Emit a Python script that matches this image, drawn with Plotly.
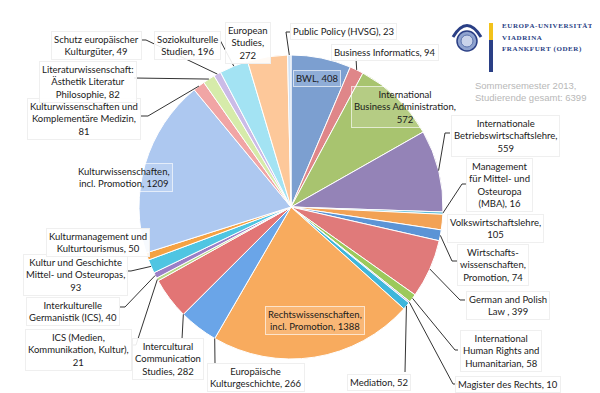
import math
import plotly.graph_objects as go

W, H = 600, 393

# ---------------- data ----------------
categories = [
    "BWL", "Business Informatics", "International Business Administration",
    "Internationale Betriebswirtschaftslehre", "Management für Mittel- und Osteuropa (MBA)",
    "Volkswirtschaftslehre", "Wirtschaftswissenschaften, Promotion", "German and Polish Law",
    "International Human Rights and Humanitarian", "Magister des Rechts", "Mediation",
    "Rechtswissenschaften, incl. Promotion", "Europäische Kulturgeschichte",
    "Intercultural Communication Studies", "ICS (Medien, Kommunikation, Kultur)",
    "Interkulturelle Germanistik (ICS)", "Kultur und Geschichte Mittel- und Osteuropas",
    "Kulturmanagement und Kulturtourismus", "Kulturwissenschaften, incl. Promotion",
    "Kulturwissenschaften und Komplementäre Medizin",
    "Literaturwissenschaft: Ästhetik Literatur Philosophie", "Schutz europäischer Kulturgüter",
    "Soziokulturelle Studien", "European Studies", "Public Policy (HVSG)",
]
values = [408, 94, 572, 559, 16, 105, 74, 399, 58, 10, 52, 1388, 266, 282, 21, 40, 93,
          50, 1209, 81, 82, 49, 196, 272, 23]
label_texts = [
    "BWL, 408", "Business Informatics, 94", "International<br>Business Administration,<br>572",
    "Internationale<br>Betriebswirtschaftslehre,<br>559",
    "Management<br>für Mittel- und<br>Osteuropa<br>(MBA), 16",
    "Volkswirtschaftslehre,<br>105", "Wirtschafts-<br>wissenschaften,<br>Promotion, 74",
    "German and Polish<br>Law , 399", "International<br>Human Rights and<br>Humanitarian, 58",
    "Magister des Rechts, 10", "Mediation, 52",
    "Rechtswissenschaften,<br>incl. Promotion, 1388", "Europäische<br>Kulturgeschichte, 266",
    "Intercultural<br>Communication<br>Studies, 282", "ICS (Medien,<br>Kommunikation, Kultur),<br>21",
    "Interkulturelle<br>Germanistik (ICS), 40", "Kultur und Geschichte<br>Mittel- und Osteuropas,<br>93",
    "Kulturmanagement und<br>Kulturtourismus, 50", "Kulturwissenschaften,<br>incl. Promotion, 1209",
    "Kulturwissenschaften und<br>Komplementäre Medizin,<br>81",
    "Literaturwissenschaft:<br>Ästhetik Literatur<br>Philosophie, 82",
    "Schutz europäischer<br>Kulturgüter, 49", "Soziokulturelle<br>Studien, 196",
    "European<br>Studies,<br>272", "Public Policy (HVSG), 23",
]
total_label = "Sommersemester 2013,<br>Studierende gesamt: 6399"
logo_lines = ["EUROPA-UNIVERSITÄT", "VIADRINA", "FRANKFURT (ODER)"]

# ---------------- styles / layout ----------------
colors = [
    "#7c9fd0", "#df8689", "#a8c46f", "#9483b7", "#57bcd9", "#f2a255", "#5b94d6",
    "#e07a7a", "#9cc95c", "#b4a5d6", "#3fb6db", "#f8ab5e", "#6aa5e8", "#e27575",
    "#b8d98a", "#9b7fc7", "#4fc5e2", "#f5a243", "#adc8f0", "#f1a5a5", "#d6ebaa",
    "#cbbbe7", "#a3e3f3", "#fdc89a", "#d2e2f4",
]

CX, CY, R = 283, 199, 152  # pie centre / radius in pixels

# label position (px), anchor, inside-box flag, leader elbow points (px), anchor fraction
label_layout = [
    ((309, 70), "center", True, None, 0.5),
    ((377, 44), "center", False, [(348, 50)], 0.5),
    ((397, 99), "center", True, None, 0.5),
    ((497, 128), "center", False, [(442, 125), (437, 125)], 0.5),
    ((492, 177), "center", False, [(458, 176), (454, 176)], 0.5),
    ((487, 220), "center", False, None, 0.5),
    ((485, 257), "center", False, [(450, 253), (444, 253)], 0.5),
    ((500, 297), "center", False, [(457, 292), (452, 292)], 0.5),
    ((493, 343), "center", False, [(450, 342), (447, 342)], 0.5),
    ((500, 376), "center", False, [(450, 376), (445, 376)], 0.5),
    ((371, 374), "center", False, [(397, 364)], 0.5),
    ((307, 312), "center", True, None, 0.5),
    ((248, 369), "center", False, [(207, 356)], 0.0),
    ((160, 351), "center", False, [(174, 331)], 0.0),
    ((70, 342), "center", False, [(123, 337), (128, 337)], 0.5),
    ((65, 303), "center", False, [(112, 299), (117, 299)], 0.5),
    ((67, 267), "center", False, [(118, 263), (123, 263)], 0.5),
    ((90, 234), "center", False, None, 0.5),
    ((116, 169), "center", True, None, 0.5),
    ((76, 111), "center", False, [(133, 108), (140, 108)], 0.5),
    ((80, 74), "center", False, [(126, 70)], 0.5),
    ((88, 38), "center", False, [(133, 32), (138, 32)], 0.5),
    ((179, 38), "center", False, [(212, 32)], 0.5),
    ((240, 35), "center", False, None, 0.5),
    ((282, 24), "left", False, [(282, 24), (278, 24)], 0.5),
]

FONT = "Lato"
FSIZE = 9.5


def px(x):
    return x / W


def py(y):
    return 1 - y / H


fig = go.Figure()
fig.add_trace(go.Pie(
    labels=categories, values=values, sort=False, direction="clockwise", rotation=0,
    marker=dict(colors=colors, line=dict(color="white", width=1)),
    textinfo="none", hoverinfo="label+value", showlegend=False,
    domain=dict(x=[px(CX - R), px(CX + R)], y=[py(CY + R), py(CY - R)]),
))

total = sum(values)
annotations = []
shapes = []
cum = 0
for i, v in enumerate(values):
    (lx, ly), anchor, inside, elbow, frac = label_layout[i]
    ang = 2 * math.pi * (cum + frac * v) / total
    cum += v
    if inside:
        box = dict(bgcolor="rgba(255,255,255,0.15)", bordercolor="rgba(255,255,255,0.65)")
    else:
        box = dict(bgcolor="rgba(255,255,255,0.9)", bordercolor="#efefef")
    annotations.append(dict(
        x=px(lx), y=py(ly), xref="paper", yref="paper", text=label_texts[i],
        showarrow=False, xanchor=anchor, yanchor="middle",
        font=dict(family=FONT, size=FSIZE, color="#1a1a1a"),
        borderwidth=1, borderpad=2, **box,
    ))
    if elbow:
        ex = CX + R * math.sin(ang)
        ey = CY - R * math.cos(ang)
        pts = list(elbow) + [(ex, ey)]
        path = "M " + " L ".join(f"{px(a):.5f},{py(b):.5f}" for a, b in pts)
        shapes.append(dict(type="path", path=path, xref="paper", yref="paper",
                           line=dict(color="#333333", width=1), layer="above"))

# summary text
annotations.append(dict(
    x=px(465), y=py(83.5), xref="paper", yref="paper", text=total_label, showarrow=False,
    xanchor="left", yanchor="middle", align="left",
    font=dict(family="Liberation Sans, Arial, sans-serif", size=9.5, color="#b8b8b8"),
))

# logo (university)
NAVY = "#2a3f85"
shapes += [
    dict(type="circle", xref="paper", yref="paper", x0=px(449), x1=px(469), y0=py(43), y1=py(23),
         fillcolor="#8fa3cf", line=dict(color=NAVY, width=1.5)),
    dict(type="circle", xref="paper", yref="paper", x0=px(453), x1=px(465), y0=py(39), y1=py(27),
         fillcolor="#c9d3ea", line=dict(color="#5b73ad", width=1)),
    dict(type="path", xref="paper", yref="paper",
         path=f"M {px(445):.5f},{py(29):.5f} Q {px(459):.5f},{py(6):.5f} {px(473):.5f},{py(29):.5f}",
         line=dict(color=NAVY, width=3)),
    dict(type="rect", xref="paper", yref="paper", x0=px(481), x1=px(485), y0=py(32), y1=py(15),
         fillcolor="#f2c21b", line=dict(width=0)),
    dict(type="rect", xref="paper", yref="paper", x0=px(481), x1=px(485), y0=py(64), y1=py(32),
         fillcolor=NAVY, line=dict(width=0)),
]
HAIR = "\u200a"
for txt, yy in zip(logo_lines, [18, 29.5, 41]):
    spaced = HAIR.join(txt)
    annotations.append(dict(
        x=px(492), y=py(yy), xref="paper", yref="paper", text=f"<b>{spaced}</b>", showarrow=False,
        xanchor="left", yanchor="middle",
        font=dict(family="Liberation Serif", size=7, color=NAVY),
    ))

fig.update_layout(
    width=W, height=H, margin=dict(l=0, r=0, t=0, b=0),
    paper_bgcolor="white", plot_bgcolor="white",
    annotations=annotations, shapes=shapes,
)
fig.write_html("out.html")
